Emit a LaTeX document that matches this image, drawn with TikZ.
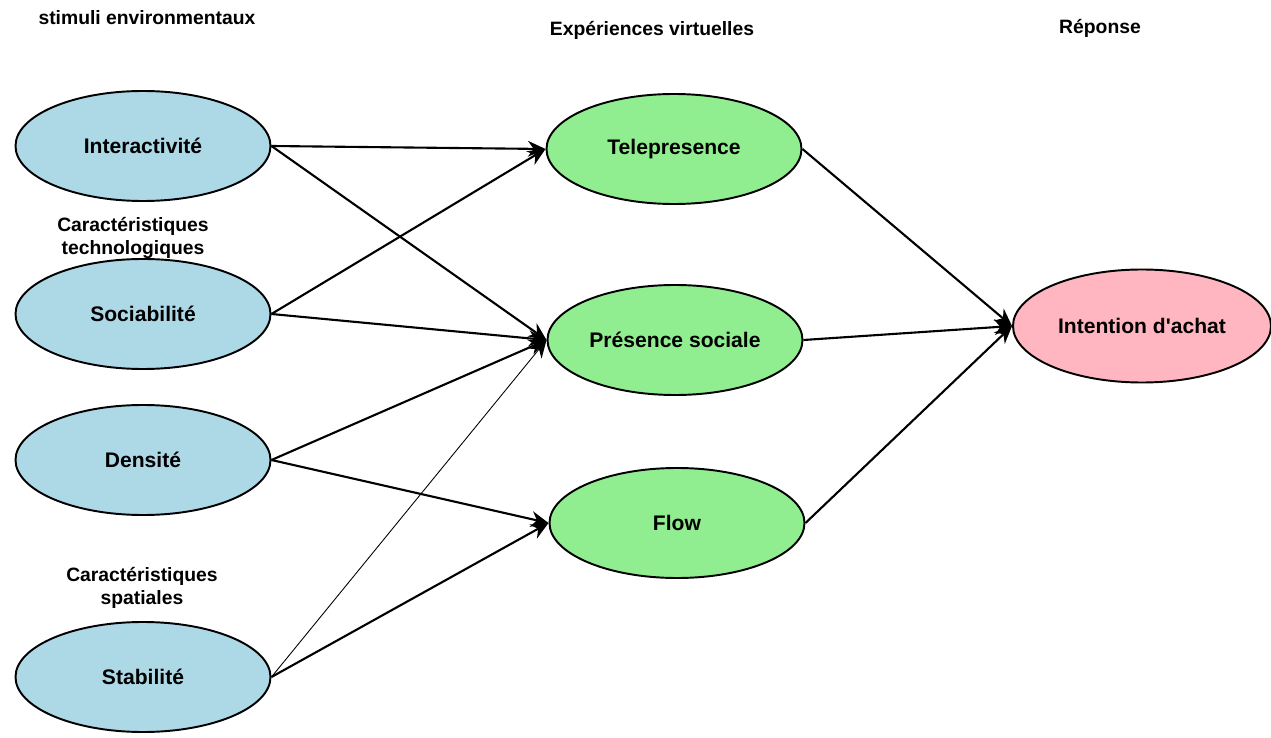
\documentclass[tikz,border=0pt]{standalone}
\usepackage{fontspec}
\setmainfont{Liberation Sans}
\usetikzlibrary{shapes.geometric,arrows.meta}
\definecolor{stimcol}{RGB}{173,216,230}
\definecolor{expcol}{RGB}{144,238,144}
\definecolor{repcol}{RGB}{255,182,193}
\begin{document}
\begin{tikzpicture}[
    oval/.style={ellipse,draw,line width=1.1pt,inner sep=0pt,minimum width=5.1cm,minimum height=2.2cm,font=\bfseries\fontsize{12}{14}\selectfont},
    titre/.style={font=\bfseries\fontsize{11}{13}\selectfont,align=center},
    fleche/.style={line width=1.2pt,-{Stealth[length=10pt,width=9pt]}},
    fine/.style={line width=0.5pt,-{Stealth[length=10pt,width=9pt]}}]
    \useasboundingbox (0,0) rectangle (25.42,14.74);
    % titres
    \node[titre] (stim) at (2.94,14.38) {stimuli environmentaux};
    \node[titre] (exp) at (13.04,14.14) {Expériences virtuelles};
    \node[titre] (rep) at (22.0,14.18) {Réponse};
    \node[titre] (techno) at (2.66,9.98) {Caractéristiques\\technologiques};
    \node[titre] (spat) at (2.84,2.98) {Caractéristiques\\spatiales};
    % stimuli
    \node[oval,fill=stimcol] (inter) at (2.86,11.82) {Interactivité};
    \node[oval,fill=stimcol] (soc) at (2.86,8.46) {Sociabilité};
    \node[oval,fill=stimcol] (dens) at (2.86,5.54) {Densité};
    \node[oval,fill=stimcol] (stab) at (2.86,1.20) {Stabilité};
    % experiences
    \node[oval,fill=expcol] (tele) at (13.48,11.76) {Telepresence};
    \node[oval,fill=expcol] (pres) at (13.5,7.94) {Présence sociale};
    \node[oval,fill=expcol] (flow) at (13.54,4.28) {Flow};
    % reponse
    \node[oval,fill=repcol,minimum width=5.16cm,minimum height=2.26cm] (achat) at (22.84,8.22) {Intention d\textquotesingle achat};
    % liens
    \draw[fleche] (inter.east) -- (tele.west);
    \draw[fleche] (inter.east) -- (pres.west);
    \draw[fleche] (soc.east) -- (tele.west);
    \draw[fleche] (soc.east) -- (pres.west);
    \draw[fleche] (dens.east) -- (pres.west);
    \draw[fleche] (dens.east) -- (flow.west);
    \draw[fine] (stab.east) -- (pres.west);
    \draw[fleche] (stab.east) -- (flow.west);
    \draw[fleche] (tele.east) -- (achat.west);
    \draw[fleche] (pres.east) -- (achat.west);
    \draw[fleche] (flow.east) -- (achat.west);
\end{tikzpicture}
\end{document}
